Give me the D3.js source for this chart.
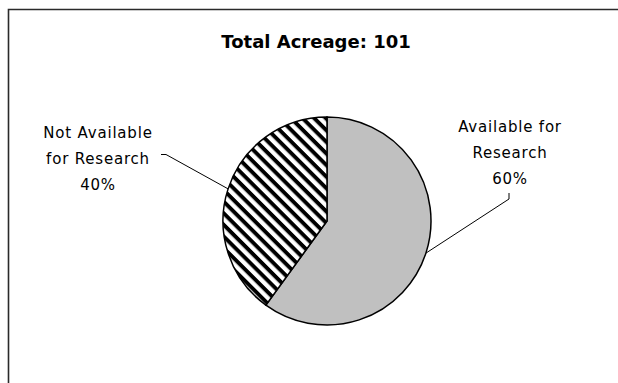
<!DOCTYPE html>
<html>
<head>
<meta charset="utf-8">
<script src="https://cdn.jsdelivr.net/npm/d3@7"></script>
<style>
  html, body { margin: 0; padding: 0; background: #fff; }
  svg { display: block; }
</style>
</head>
<body>
<svg id="chart" width="618" height="383"></svg>
<script>
// Acreage split
const title = "Total Acreage: 101";
const categories = ["Available for Research", "Not Available for Research"];
const values = [60, 40];
const labelLines = [["Available for", "Research", "60%"], ["Not Available", "for Research", "40%"]];

const W = 618, H = 383;
const svg = d3.select("#chart");
const cx = 327, cy = 221, R = 104;

// Hatch pattern for the second slice
const hp = 8.2;
const defs = svg.append("defs");
const pat = defs.append("pattern")
  .attr("id", "hatch")
  .attr("patternUnits", "userSpaceOnUse")
  .attr("width", hp).attr("height", hp)
  .attr("patternTransform", "rotate(45)");
pat.append("rect").attr("width", hp).attr("height", hp).attr("fill", "#fff");
pat.append("rect").attr("width", hp).attr("height", hp * 0.48).attr("fill", "#000");

// Chart frame (top and left edges)
svg.append("path")
  .attr("d", `M8.5,${H} L8.5,9.5 L${W},9.5`)
  .attr("fill", "none").attr("stroke", "#2a2a2a").attr("stroke-width", 1.6);

svg.append("text")
  .attr("x", 316).attr("y", 48)
  .attr("text-anchor", "middle")
  .attr("font-family", "DejaVu Sans, sans-serif")
  .attr("font-weight", "bold").attr("font-size", 18)
  .attr("fill", "#000")
  .text(title);

const pie = d3.pie().sort(null).value(d => d)(values);
const arc = d3.arc().innerRadius(0).outerRadius(R);
const fills = ["#C0C0C0", "url(#hatch)"];

const g = svg.append("g").attr("transform", `translate(${cx},${cy})`);
g.selectAll("path.slice")
  .data(pie)
  .join("path")
  .attr("class", "slice")
  .attr("d", arc)
  .attr("fill", (d, i) => fills[i])
  .attr("stroke", "#000").attr("stroke-width", 1.5);

// Label blocks and leader lines
const labelPos = [
  { x: 510, y: 132, lx: 509, ly: 193, tick: "v" },
  { x: 98, y: 137.5, lx: 161, ly: 154.5, tick: "h" }
];
const font = "DejaVu Sans, sans-serif";

pie.forEach((d, i) => {
  const p = labelPos[i];
  const mid = (d.startAngle + d.endAngle) / 2;
  const ex = cx + R * Math.sin(mid), ey = cy - R * Math.cos(mid);
  let path;
  if (p.tick === "v") {
    path = `M${p.lx},${p.ly} L${p.lx},${p.ly + 6} L${ex},${ey}`;
  } else {
    path = `M${p.lx},${p.ly} L${p.lx + 5},${p.ly} L${ex},${ey}`;
  }
  svg.append("path").attr("d", path)
    .attr("fill", "none").attr("stroke", "#000").attr("stroke-width", 1);

  const t = svg.append("text")
    .attr("text-anchor", "middle")
    .attr("font-family", font).attr("font-size", 15)
    .attr("letter-spacing", "0.8px")
    .attr("fill", "#000");
  labelLines[i].forEach((line, k) => {
    t.append("tspan").attr("x", p.x).attr("y", p.y + k * 26).text(line);
  });
});
</script>
</body>
</html>
